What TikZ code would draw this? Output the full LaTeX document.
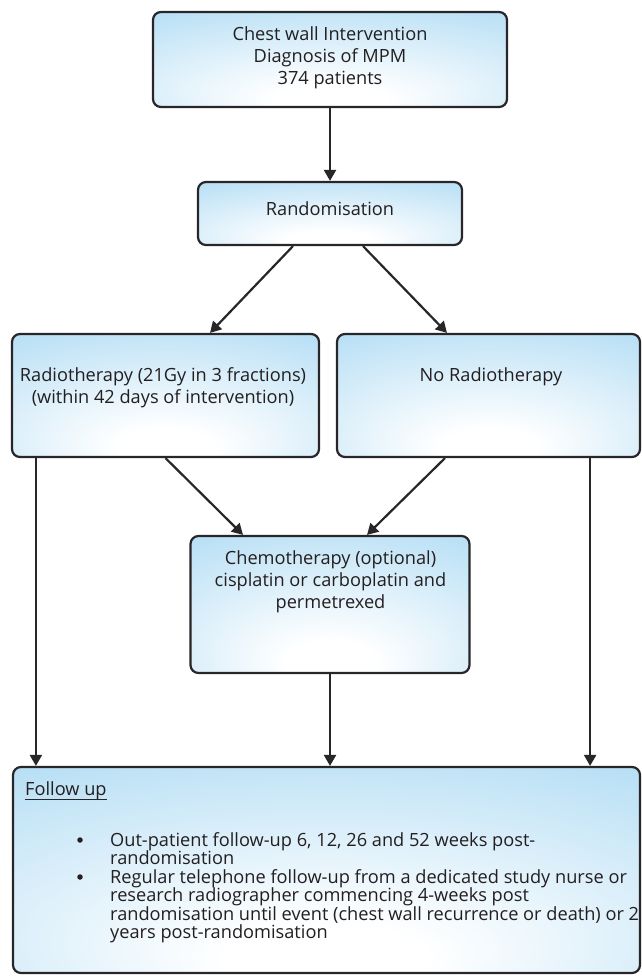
\documentclass[tikz,border=0pt]{standalone}
\usepackage{fontspec}
\setmainfont{Open Sans}
\usetikzlibrary{arrows.meta}
\definecolor{boxblue}{RGB}{170,217,243}
\definecolor{linec}{RGB}{40,38,40}
\definecolor{textc}{RGB}{35,31,32}
\pgfdeclareradialshading{boxshade}{\pgfpoint{0bp}{-24bp}}{color(0bp)=(white); color(8bp)=(white); color(50bp)=(boxblue); color(80bp)=(boxblue)}
\tikzset{
  box/.style={draw=linec, line width=2.2pt, rounded corners=8pt, shading=boxshade, inner sep=0pt},
  txt/.style={text=textc, align=center, font=\fontsize{18.2}{22}\selectfont, inner sep=0pt},
  ltxt/.style={text=textc, font=\fontsize{18.2}{18.5}\selectfont, inner sep=0pt, anchor=base west},
  bul/.style={fill=textc, circle, inner sep=0pt, minimum size=5.5pt},
  arr/.style={draw=linec, line width=2.2pt, -{Triangle[length=11pt,width=12pt]}},
}
\begin{document}
\begin{tikzpicture}[x=1pt,y=-1pt]
\useasboundingbox (0,0) rectangle (641,979);
% boxes
\node[box, minimum width=354pt, minimum height=95pt] (top) at (330,59.5) {};
\node[box, minimum width=264pt, minimum height=63pt] (rand) at (330,213.5) {};
\node[box, minimum width=307pt, minimum height=123pt] (radio) at (165.5,395.5) {};
\node[box, minimum width=303pt, minimum height=123pt] (norad) at (488.5,395.5) {};
\node[box, minimum width=279pt, minimum height=137pt] (chemo) at (330,604.5) {};
\node[box, minimum width=627pt, minimum height=206pt] (fu) at (326.5,870) {};
% texts
\node[txt] (toptxt) at (330,58) {Chest wall Intervention\\Diagnosis of MPM\\374 patients};
\node[txt] (randtxt) at (330,209) {Randomisation};
\node[txt] (radiotxt) at (163,388) {Radiotherapy (21Gy in 3 fractions)\\(within 42 days of intervention)};
\node[txt] (noradtxt) at (491,377) {No Radiotherapy};
\node[txt] (chemotxt) at (330.5,582) {Chemotherapy (optional)\\cisplatin or carboplatin and\\permetrexed};
\node[ltxt] (futitle) at (25,795) {Follow up};
\draw[linec, line width=0.8pt] ([yshift=-4pt]futitle.base west) -- ([yshift=-4pt]futitle.base east);
\node[bul] (b1) at (80,840) {};
\node[bul] (b2) at (80,877) {};
\node[ltxt] (l1) at (110,846) {Out-patient follow-up 6, 12, 26 and 52 weeks post-};
\node[ltxt] (l2) at (110,864.5) {randomisation};
\node[ltxt] (l3) at (110,883) {Regular telephone follow-up from a dedicated study nurse or};
\node[ltxt] (l4) at (110,901.5) {research radiographer commencing 4-weeks post};
\node[ltxt] (l5) at (110,920) {randomisation until event (chest wall recurrence or death) or 2};
\node[ltxt] (l6) at (110,938.5) {years post-randomisation};
% connectors
\draw[arr] (top.south) -- (rand.north);
\draw[arr] ([xshift=-37pt]rand.south) -- ([xshift=44.5pt]radio.north);
\draw[arr] ([xshift=33pt]rand.south) -- ([xshift=-41.5pt]norad.north);
\draw[arr] (radio.south) -- ([xshift=-87pt]chemo.north);
\draw[arr] ([xshift=-43.5pt]norad.south) -- ([xshift=37pt]chemo.north);
\draw[arr] ([xshift=25pt]radio.south west) -- ([xshift=24pt]fu.north west);
\draw[arr] (chemo.south) -- (chemo.south |- fu.north);
\draw[arr] ([xshift=-51pt]norad.south east) -- ([xshift=-51pt]fu.north east);
\end{tikzpicture}
\end{document}
